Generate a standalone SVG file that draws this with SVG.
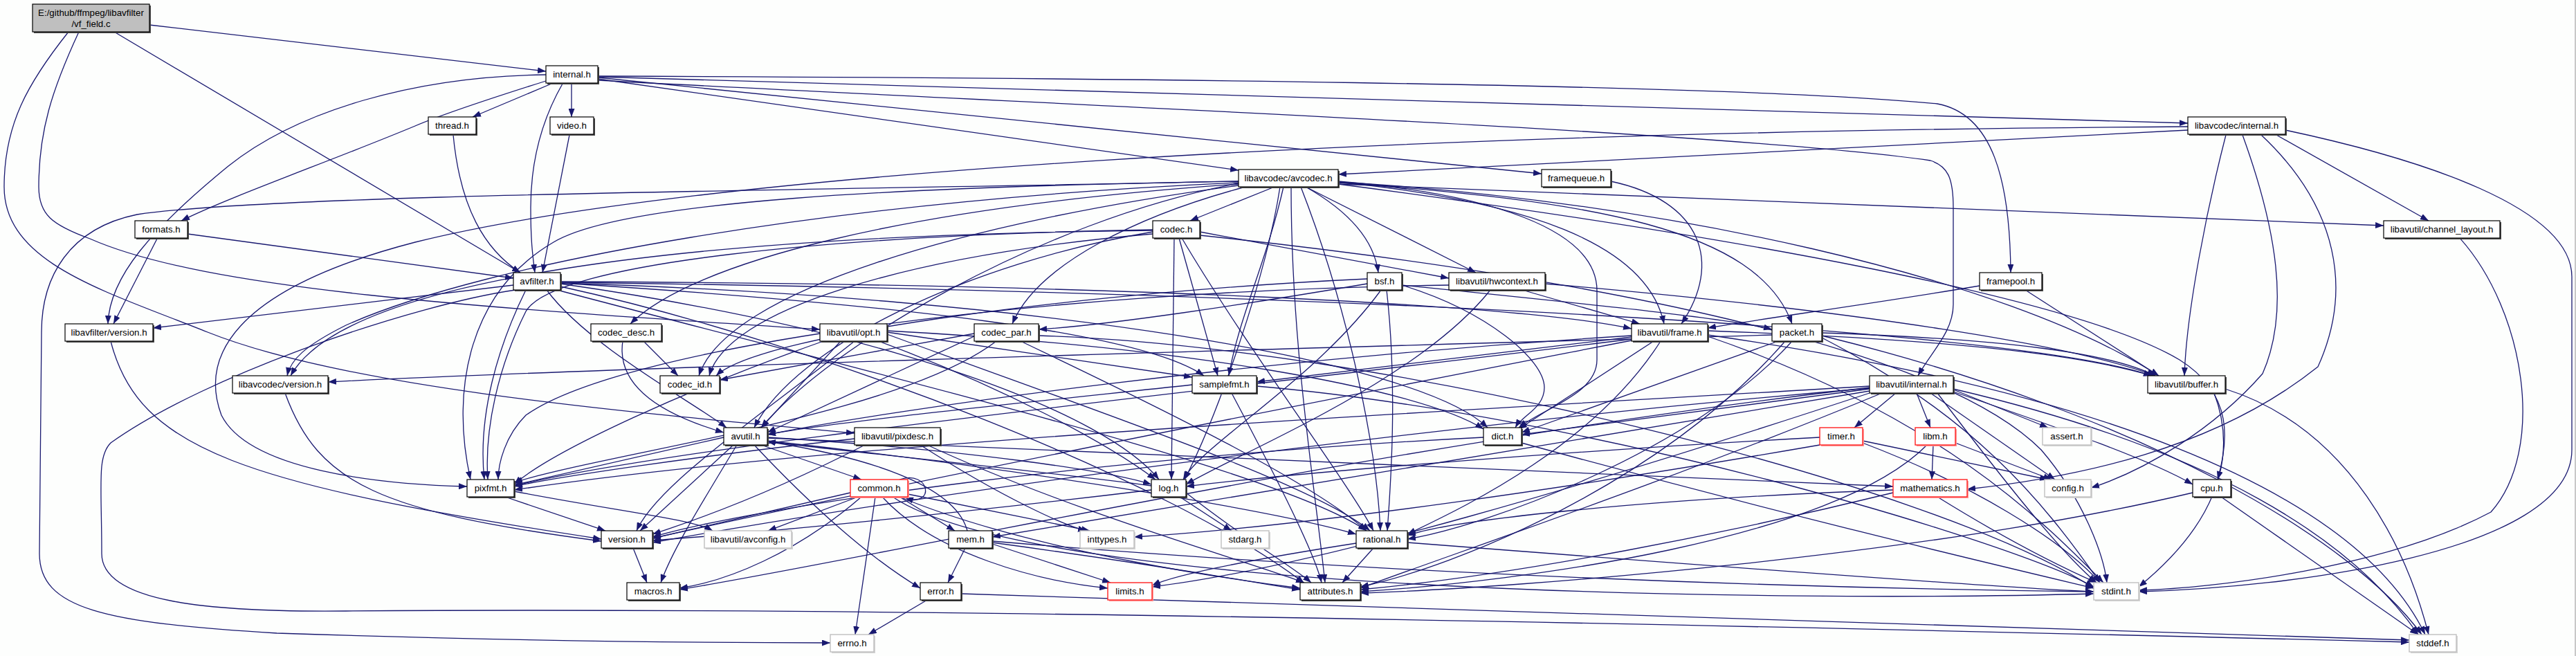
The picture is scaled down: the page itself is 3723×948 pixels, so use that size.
<svg xmlns="http://www.w3.org/2000/svg" width="3723" height="948" viewBox="0 0 3723 948">
<style>
.e{fill:none;stroke:#191970;stroke-width:1.3;marker-end:url(#ah)}
.n rect.s{fill:#4a4a4a}
.n rect.b{fill:#ffffff;stroke:#000;stroke-width:1.2}
.g rect.s{fill:#d4d4d4}
.g rect.b{fill:#ffffff;stroke:#bfbfbf;stroke-width:1.4}
.r rect.s{fill:#ff9a9a}
.r rect.b{fill:#ffffff;stroke:#ff2020;stroke-width:1.4}
.root rect.b{fill:#bfbfbf;stroke:#000;stroke-width:1.2}
text{font-family:"Liberation Sans",Arial,sans-serif;font-size:13.3px;fill:#000;text-anchor:middle}
</style>
<defs>
<marker id="ah" markerUnits="userSpaceOnUse" markerWidth="13" markerHeight="9" refX="12" refY="4.5" orient="auto">
<path d="M0,0 L12,4.5 L0,9 z" fill="#191970"/>
</marker>
</defs>
<rect x="0" y="0" width="3723" height="948" fill="#fdfefd"/>
<line x1="3722" y1="0" x2="3722" y2="948" stroke="#c8c8c8" stroke-width="2"/>
<g id="edges">
<path class="e" d="M216,36 L789,103"/>
<path class="e" d="M165,46 L752,394"/>
<path class="e" d="M114,46 C75,130 56,190 56,270 C56,310 75,325 130,345 C300,420 700,445 1185,476"/>
<path class="e" d="M99,46 C40,120 6,180 6,270 C6,380 150,420 300,480 C500,560 900,595 1235,626"/>
<path class="e" d="M789,108 C600,110 430,160 330,240 C220,330 158,400 156,468"/>
<path class="e" d="M789,117 C700,145 640,165 600,182 C480,232 330,285 262,319"/>
<path class="e" d="M797,121 L683,169"/>
<path class="e" d="M826,120 L826,169"/>
<path class="e" d="M813,121 C785,170 767,230 767,300 C767,350 770,370 773,394"/>
<path class="e" d="M864,114 L1790,246"/>
<path class="e" d="M864,112 L2228,251"/>
<path class="e" d="M864,110 C1500,112 2500,120 2800,150 C2880,165 2905,260 2906,394"/>
<path class="e" d="M864,111 L3162,178"/>
<path class="e" d="M864,116 C1500,150 2500,190 2790,232 C2815,240 2823,257 2823,300 L2823,440 C2823,480 2790,510 2772,543"/>
<path class="e" d="M655,195 C665,300 700,360 752,394"/>
<path class="e" d="M823,195 L784,394"/>
<path class="e" d="M271,338 L742,402"/>
<path class="e" d="M227,345 L164,468"/>
<path class="e" d="M742,412 L221,474"/>
<path class="e" d="M760,419 C720,500 690,600 700,693"/>
<path class="e" d="M790,419 C850,500 1000,580 1050,618"/>
<path class="e" d="M810,414 C1200,500 1700,700 1885,843"/>
<path class="e" d="M810,408 C1800,420 2900,470 3110,543"/>
<path class="e" d="M810,409 C1500,430 2050,520 2150,618"/>
<path class="e" d="M810,407 C1600,410 2200,440 2358,475"/>
<path class="e" d="M810,410 C1300,480 1600,600 1675,693"/>
<path class="e" d="M810,409 C1300,440 1650,480 1740,543"/>
<path class="e" d="M805,419 C1300,550 1850,680 1975,767"/>
<path class="e" d="M745,419 C600,440 300,540 160,640 C140,660 147,700 147,800 C147,870 300,885 500,883 C900,880 1600,880 3482,928"/>
<path class="e" d="M1790,262 C1200,275 400,280 198,310 C100,330 60,400 60,480 L57,800 C57,880 150,900 400,915 C700,925 1000,929 1200,929"/>
<path class="e" d="M1855,270 C1830,380 1790,460 1776,543"/>
<path class="e" d="M1866,270 C1866,500 1900,700 1915,842"/>
<path class="e" d="M1790,265 C1500,320 1200,500 1100,618"/>
<path class="e" d="M1934,263 C2400,290 2900,400 3120,543"/>
<path class="e" d="M1934,266 C2500,340 3000,430 3150,520 C3230,570 3220,640 3205,693"/>
<path class="e" d="M1934,266 L3445,326"/>
<path class="e" d="M1934,262 C2150,280 2308,330 2308,420 L2308,520 C2308,570 2230,590 2195,618"/>
<path class="e" d="M1934,263 C2200,290 2380,350 2405,468"/>
<path class="e" d="M1887,270 L2133,394"/>
<path class="e" d="M1850,270 C1830,400 1760,600 1712,693"/>
<path class="e" d="M1790,262 C1300,270 900,290 800,350 C680,420 650,560 680,693"/>
<path class="e" d="M1880,270 C1950,450 1990,650 1995,767"/>
<path class="e" d="M1887,270 C1940,300 1985,340 1992,394"/>
<path class="e" d="M1842,270 L1720,319"/>
<path class="e" d="M1790,266 C1300,300 1000,380 911,468"/>
<path class="e" d="M1800,270 C1650,310 1500,380 1463,468"/>
<path class="e" d="M1790,268 C1400,320 1050,420 1010,543"/>
<path class="e" d="M1934,264 C2300,290 2540,330 2590,468"/>
<path class="e" d="M1790,264 C1200,290 700,380 500,470 C440,500 420,520 415,543"/>
<path class="e" d="M3162,188 L1934,252"/>
<path class="e" d="M3162,183 C2000,190 1000,250 600,350 C330,420 290,520 320,600 C360,680 550,700 675,703"/>
<path class="e" d="M3217,195 C3190,300 3160,450 3157,543"/>
<path class="e" d="M3241,195 C3290,330 3310,450 3270,540 C3200,620 3100,680 3022,705"/>
<path class="e" d="M3268,195 C3380,300 3400,420 3350,530 C3200,650 3000,690 2843,707"/>
<path class="e" d="M3290,195 L3510,319"/>
<path class="e" d="M3303,188 C3500,230 3717,300 3717,400 L3717,650 C3717,800 3300,850 3091,855"/>
<path class="e" d="M2328,262 C2460,290 2490,380 2430,468"/>
<path class="e" d="M1734,340 C2300,400 2800,500 2950,650 C3010,720 3040,800 3045,842"/>
<path class="e" d="M1666,335 C1400,380 1150,500 1090,618"/>
<path class="e" d="M1734,335 L2094,402"/>
<path class="e" d="M1697,344 L1693,693"/>
<path class="e" d="M1666,332 C1200,340 800,380 760,450 C720,530 700,620 705,693"/>
<path class="e" d="M1708,344 C1800,500 1950,700 1985,767"/>
<path class="e" d="M1704,344 L1760,543"/>
<path class="e" d="M1666,338 C1300,370 1050,450 1025,543"/>
<path class="e" d="M1666,333 C1000,340 500,400 420,543"/>
<path class="e" d="M2026,412 C2150,450 2232,520 2232,560 C2232,590 2200,600 2190,618"/>
<path class="e" d="M1996,419 C1900,550 1740,640 1710,693"/>
<path class="e" d="M2004,419 C2020,560 2010,700 2005,767"/>
<path class="e" d="M1976,403 C1600,420 1100,480 1035,543"/>
<path class="e" d="M1976,410 C1800,440 1600,470 1501,476"/>
<path class="e" d="M2026,412 C2300,440 2500,460 2561,476"/>
<path class="e" d="M2233,410 C2700,450 3000,500 3115,543"/>
<path class="e" d="M2200,419 L2370,468"/>
<path class="e" d="M2154,419 C2050,550 1800,650 1714,700"/>
<path class="e" d="M2094,412 C1500,420 900,500 760,600 C730,630 720,670 720,693"/>
<path class="e" d="M2927,419 L3120,543"/>
<path class="e" d="M2861,413 C2700,440 2550,460 2468,474"/>
<path class="e" d="M160,493 C200,650 350,700 869,779"/>
<path class="e" d="M412,568 C460,700 550,740 869,782"/>
<path class="e" d="M900,493 C890,560 960,600 1046,625"/>
<path class="e" d="M930,493 L980,543"/>
<path class="e" d="M1282,483 C1600,600 1900,700 1980,767"/>
<path class="e" d="M1215,493 L1100,618"/>
<path class="e" d="M1282,478 C1700,500 2050,560 2144,620"/>
<path class="e" d="M1270,493 C1450,560 1600,640 1670,693"/>
<path class="e" d="M1190,493 C1000,560 800,650 743,700"/>
<path class="e" d="M1282,480 L1723,545"/>
<path class="e" d="M1235,493 C1100,600 950,700 920,767"/>
<path class="e" d="M1501,485 C2000,500 2800,700 3026,850"/>
<path class="e" d="M1408,486 L1109,625"/>
<path class="e" d="M1475,493 C1700,600 1900,700 1975,767"/>
<path class="e" d="M1440,493 C1300,600 900,650 743,697"/>
<path class="e" d="M1408,482 L1040,549"/>
<path class="e" d="M2468,484 C3000,560 3400,700 3505,917"/>
<path class="e" d="M2468,486 C2800,600 2950,750 3040,842"/>
<path class="e" d="M2358,485 C1800,520 1300,590 1109,628"/>
<path class="e" d="M2468,478 C2800,490 3000,510 3110,543"/>
<path class="e" d="M2390,493 L2195,620"/>
<path class="e" d="M2400,493 C2300,650 2100,740 2034,772"/>
<path class="e" d="M2358,487 L1816,552"/>
<path class="e" d="M2358,490 C1800,560 1000,640 743,702"/>
<path class="e" d="M2358,492 C1800,600 1200,720 943,778"/>
<path class="e" d="M2633,485 C3100,600 3400,780 3500,917"/>
<path class="e" d="M2633,488 C2850,600 2950,720 3035,842"/>
<path class="e" d="M2580,493 C2400,700 2100,820 1966,848"/>
<path class="e" d="M2633,481 C2900,490 3050,510 3115,543"/>
<path class="e" d="M2570,493 L2199,625"/>
<path class="e" d="M2590,493 C2450,650 2150,760 2034,779"/>
<path class="e" d="M2561,484 C2000,500 900,530 474,552"/>
<path class="e" d="M2702,568 C2300,700 1900,820 1665,848"/>
<path class="e" d="M2800,568 C2900,700 2980,800 3030,842"/>
<path class="e" d="M2823,562 C3200,650 3400,780 3495,917"/>
<path class="e" d="M2823,563 L2960,618"/>
<path class="e" d="M2790,568 L2970,693"/>
<path class="e" d="M2720,568 C2400,700 2100,800 1966,850"/>
<path class="e" d="M2740,568 L2680,618"/>
<path class="e" d="M2823,566 C2950,610 3100,660 3169,700"/>
<path class="e" d="M2702,562 L2199,628"/>
<path class="e" d="M2702,560 C2000,640 1300,800 982,852"/>
<path class="e" d="M2702,565 C2200,650 1700,730 1434,776"/>
<path class="e" d="M2702,558 C2000,600 1200,640 743,708"/>
<path class="e" d="M2702,561 C2000,620 1300,720 943,784"/>
<path class="e" d="M2770,568 L2790,618"/>
<path class="e" d="M3216,562 C3400,620 3480,800 3510,917"/>
<path class="e" d="M3200,568 C3250,700 3150,800 3091,848"/>
<path class="e" d="M3555,344 C3650,450 3680,650 3600,740 C3450,820 3200,850 3091,853"/>
<path class="e" d="M1816,558 C2300,600 2900,780 3026,848"/>
<path class="e" d="M1723,556 C1500,580 1200,610 1109,628"/>
<path class="e" d="M1780,568 C1850,700 1900,800 1910,842"/>
<path class="e" d="M1100,643 L1245,693"/>
<path class="e" d="M1090,643 C1200,760 1280,820 1330,850"/>
<path class="e" d="M1109,637 C1500,680 1850,740 1960,772"/>
<path class="e" d="M1060,643 L925,767"/>
<path class="e" d="M1065,643 C1000,750 970,800 955,842"/>
<path class="e" d="M1109,633 C1800,660 2500,690 2736,703"/>
<path class="e" d="M1109,632 C1400,650 1600,680 1664,700"/>
<path class="e" d="M1046,632 L743,701"/>
<path class="e" d="M1330,643 C1450,720 1540,760 1570,767"/>
<path class="e" d="M1340,643 C1550,740 1800,810 1885,842"/>
<path class="e" d="M1235,634 C1000,660 800,690 743,703"/>
<path class="e" d="M1250,643 C1100,720 980,760 943,772"/>
<path class="e" d="M2199,640 C2600,750 2900,820 3026,850"/>
<path class="e" d="M2144,632 C1600,660 1100,730 943,776"/>
<path class="e" d="M2692,637 C2800,660 2900,680 2960,693"/>
<path class="e" d="M2630,643 C2300,700 1900,760 1639,776"/>
<path class="e" d="M2692,640 C2850,700 2980,780 3035,842"/>
<path class="e" d="M2630,632 C2300,650 1900,680 1714,703"/>
<path class="e" d="M2826,640 L2965,693"/>
<path class="e" d="M2785,643 C2650,780 2200,840 1966,855"/>
<path class="e" d="M2794,643 L2792,693"/>
<path class="e" d="M743,710 C900,740 1000,750 1030,767"/>
<path class="e" d="M730,718 L875,767"/>
<path class="e" d="M1300,693 C1345,678 1352,735 1308,719"/>
<path class="e" d="M1265,718 L1236,917"/>
<path class="e" d="M1312,714 L1575,767"/>
<path class="e" d="M1275,718 C1350,800 1500,840 1601,850"/>
<path class="e" d="M1290,718 C1500,860 2600,870 3026,858"/>
<path class="e" d="M1300,718 C1500,800 1800,840 1879,850"/>
<path class="e" d="M1245,718 C1150,800 1050,840 982,850"/>
<path class="e" d="M1229,712 L943,778"/>
<path class="e" d="M1240,718 L1110,767"/>
<path class="e" d="M1300,718 L1380,767"/>
<path class="e" d="M1705,718 L1780,767"/>
<path class="e" d="M1664,702 C1500,680 1200,650 1109,638"/>
<path class="e" d="M1714,712 C1800,780 1870,820 1895,842"/>
<path class="e" d="M1664,708 C1400,740 1100,770 943,781"/>
<path class="e" d="M1434,786 L1605,842"/>
<path class="e" d="M1434,782 C2000,830 2600,850 3026,855"/>
<path class="e" d="M1434,784 C1700,820 1800,840 1879,852"/>
<path class="e" d="M1395,792 L1370,842"/>
<path class="e" d="M1398,767 C1380,700 1250,660 1109,638"/>
<path class="e" d="M1340,867 L1255,917"/>
<path class="e" d="M1389,858 C2200,890 3000,910 3482,925"/>
<path class="e" d="M2034,784 C2500,820 2900,850 3026,855"/>
<path class="e" d="M1960,785 C1800,810 1700,830 1665,846"/>
<path class="e" d="M1985,792 L1940,842"/>
<path class="e" d="M2800,718 C2900,780 2980,820 3030,842"/>
<path class="e" d="M2736,712 C2500,770 2200,830 1966,852"/>
<path class="e" d="M2736,708 C2400,720 2100,750 2034,774"/>
<path class="e" d="M915,792 L935,842"/>
<path class="e" d="M3210,718 L3495,917"/>
<path class="e" d="M3169,712 C2800,800 2200,850 1966,857"/>
</g>
<g id="node-vf_field" class="n root"><rect class="s" x="49" y="8" width="169" height="40"/><rect class="b" x="47" y="6" width="169" height="40"/><text x="131.5" y="23">E:/github/ffmpeg/libavfilter</text><text x="131.5" y="39">/vf_field.c</text></g>
<g id="node-internal" class="n"><rect class="s" x="791" y="97" width="75" height="25"/><rect class="b" x="789" y="95" width="75" height="25"/><text x="826.5" y="112">internal.h</text></g>
<g id="node-thread" class="n"><rect class="s" x="621" y="171" width="69" height="25"/><rect class="b" x="619" y="169" width="69" height="25"/><text x="653.5" y="186">thread.h</text></g>
<g id="node-video" class="n"><rect class="s" x="797" y="171" width="63" height="25"/><rect class="b" x="795" y="169" width="63" height="25"/><text x="826.5" y="186">video.h</text></g>
<g id="node-lavc_internal" class="n"><rect class="s" x="3164" y="171" width="141" height="25"/><rect class="b" x="3162" y="169" width="141" height="25"/><text x="3232.5" y="186">libavcodec/internal.h</text></g>
<g id="node-avcodec" class="n"><rect class="s" x="1792" y="247" width="144" height="25"/><rect class="b" x="1790" y="245" width="144" height="25"/><text x="1862" y="262">libavcodec/avcodec.h</text></g>
<g id="node-framequeue" class="n"><rect class="s" x="2230" y="247" width="100" height="25"/><rect class="b" x="2228" y="245" width="100" height="25"/><text x="2278" y="262">framequeue.h</text></g>
<g id="node-formats" class="n"><rect class="s" x="197" y="321" width="76" height="25"/><rect class="b" x="195" y="319" width="76" height="25"/><text x="233" y="336">formats.h</text></g>
<g id="node-codec" class="n"><rect class="s" x="1668" y="321" width="68" height="25"/><rect class="b" x="1666" y="319" width="68" height="25"/><text x="1700" y="336">codec.h</text></g>
<g id="node-channel_layout" class="n"><rect class="s" x="3447" y="321" width="168" height="25"/><rect class="b" x="3445" y="319" width="168" height="25"/><text x="3529" y="336">libavutil/channel_layout.h</text></g>
<g id="node-avfilter" class="n"><rect class="s" x="744" y="396" width="68" height="25"/><rect class="b" x="742" y="394" width="68" height="25"/><text x="776" y="411">avfilter.h</text></g>
<g id="node-bsf" class="n"><rect class="s" x="1978" y="396" width="50" height="25"/><rect class="b" x="1976" y="394" width="50" height="25"/><text x="2001" y="411">bsf.h</text></g>
<g id="node-hwcontext" class="n"><rect class="s" x="2096" y="396" width="139" height="25"/><rect class="b" x="2094" y="394" width="139" height="25"/><text x="2163.5" y="411">libavutil/hwcontext.h</text></g>
<g id="node-framepool" class="n"><rect class="s" x="2863" y="396" width="90" height="25"/><rect class="b" x="2861" y="394" width="90" height="25"/><text x="2906" y="411">framepool.h</text></g>
<g id="node-lavfi_version" class="n"><rect class="s" x="96" y="470" width="127" height="25"/><rect class="b" x="94" y="468" width="127" height="25"/><text x="157.5" y="485">libavfilter/version.h</text></g>
<g id="node-codec_desc" class="n"><rect class="s" x="856" y="470" width="102" height="25"/><rect class="b" x="854" y="468" width="102" height="25"/><text x="905" y="485">codec_desc.h</text></g>
<g id="node-opt" class="n"><rect class="s" x="1187" y="470" width="97" height="25"/><rect class="b" x="1185" y="468" width="97" height="25"/><text x="1233.5" y="485">libavutil/opt.h</text></g>
<g id="node-codec_par" class="n"><rect class="s" x="1410" y="470" width="93" height="25"/><rect class="b" x="1408" y="468" width="93" height="25"/><text x="1454.5" y="485">codec_par.h</text></g>
<g id="node-frame" class="n"><rect class="s" x="2360" y="470" width="110" height="25"/><rect class="b" x="2358" y="468" width="110" height="25"/><text x="2413" y="485">libavutil/frame.h</text></g>
<g id="node-packet" class="n"><rect class="s" x="2563" y="470" width="72" height="25"/><rect class="b" x="2561" y="468" width="72" height="25"/><text x="2597" y="485">packet.h</text></g>
<g id="node-lavc_version" class="n"><rect class="s" x="338" y="545" width="138" height="25"/><rect class="b" x="336" y="543" width="138" height="25"/><text x="405" y="560">libavcodec/version.h</text></g>
<g id="node-codec_id" class="n"><rect class="s" x="956" y="545" width="86" height="25"/><rect class="b" x="954" y="543" width="86" height="25"/><text x="997" y="560">codec_id.h</text></g>
<g id="node-samplefmt" class="n"><rect class="s" x="1725" y="545" width="93" height="25"/><rect class="b" x="1723" y="543" width="93" height="25"/><text x="1769.5" y="560">samplefmt.h</text></g>
<g id="node-lavu_internal" class="n"><rect class="s" x="2704" y="545" width="121" height="25"/><rect class="b" x="2702" y="543" width="121" height="25"/><text x="2762.5" y="560">libavutil/internal.h</text></g>
<g id="node-buffer" class="n"><rect class="s" x="3106" y="545" width="112" height="25"/><rect class="b" x="3104" y="543" width="112" height="25"/><text x="3160" y="560">libavutil/buffer.h</text></g>
<g id="node-avutil" class="n"><rect class="s" x="1048" y="620" width="63" height="25"/><rect class="b" x="1046" y="618" width="63" height="25"/><text x="1077.5" y="635">avutil.h</text></g>
<g id="node-pixdesc" class="n"><rect class="s" x="1237" y="620" width="124" height="25"/><rect class="b" x="1235" y="618" width="124" height="25"/><text x="1297" y="635">libavutil/pixdesc.h</text></g>
<g id="node-dict" class="n"><rect class="s" x="2146" y="620" width="55" height="25"/><rect class="b" x="2144" y="618" width="55" height="25"/><text x="2171.5" y="635">dict.h</text></g>
<g id="node-timer" class="r"><rect class="s" x="2632" y="620" width="62" height="25"/><rect class="b" x="2630" y="618" width="62" height="25"/><text x="2661" y="635">timer.h</text></g>
<g id="node-libm" class="r"><rect class="s" x="2770" y="620" width="58" height="25"/><rect class="b" x="2768" y="618" width="58" height="25"/><text x="2797" y="635">libm.h</text></g>
<g id="node-assert" class="g"><rect class="s" x="2954" y="620" width="70" height="25"/><rect class="b" x="2952" y="618" width="70" height="25"/><text x="2987" y="635">assert.h</text></g>
<g id="node-pixfmt" class="n"><rect class="s" x="677" y="695" width="68" height="25"/><rect class="b" x="675" y="693" width="68" height="25"/><text x="709" y="710">pixfmt.h</text></g>
<g id="node-common" class="r"><rect class="s" x="1231" y="695" width="83" height="25"/><rect class="b" x="1229" y="693" width="83" height="25"/><text x="1270.5" y="710">common.h</text></g>
<g id="node-log" class="n"><rect class="s" x="1666" y="695" width="50" height="25"/><rect class="b" x="1664" y="693" width="50" height="25"/><text x="1689" y="710">log.h</text></g>
<g id="node-mathematics" class="r"><rect class="s" x="2738" y="695" width="107" height="25"/><rect class="b" x="2736" y="693" width="107" height="25"/><text x="2789.5" y="710">mathematics.h</text></g>
<g id="node-config" class="g"><rect class="s" x="2957" y="695" width="67" height="25"/><rect class="b" x="2955" y="693" width="67" height="25"/><text x="2988.5" y="710">config.h</text></g>
<g id="node-cpu" class="n"><rect class="s" x="3171" y="695" width="55" height="25"/><rect class="b" x="3169" y="693" width="55" height="25"/><text x="3196.5" y="710">cpu.h</text></g>
<g id="node-version" class="n"><rect class="s" x="871" y="769" width="74" height="25"/><rect class="b" x="869" y="767" width="74" height="25"/><text x="906" y="784">version.h</text></g>
<g id="node-avconfig" class="g"><rect class="s" x="1020" y="769" width="126" height="25"/><rect class="b" x="1018" y="767" width="126" height="25"/><text x="1081" y="784">libavutil/avconfig.h</text></g>
<g id="node-mem" class="n"><rect class="s" x="1373" y="769" width="63" height="25"/><rect class="b" x="1371" y="767" width="63" height="25"/><text x="1402.5" y="784">mem.h</text></g>
<g id="node-inttypes" class="g"><rect class="s" x="1563" y="769" width="78" height="25"/><rect class="b" x="1561" y="767" width="78" height="25"/><text x="1600" y="784">inttypes.h</text></g>
<g id="node-stdarg" class="g"><rect class="s" x="1767" y="769" width="69" height="25"/><rect class="b" x="1765" y="767" width="69" height="25"/><text x="1799.5" y="784">stdarg.h</text></g>
<g id="node-rational" class="n"><rect class="s" x="1962" y="769" width="74" height="25"/><rect class="b" x="1960" y="767" width="74" height="25"/><text x="1997" y="784">rational.h</text></g>
<g id="node-macros" class="n"><rect class="s" x="908" y="844" width="76" height="25"/><rect class="b" x="906" y="842" width="76" height="25"/><text x="944" y="859">macros.h</text></g>
<g id="node-error" class="n"><rect class="s" x="1332" y="844" width="59" height="25"/><rect class="b" x="1330" y="842" width="59" height="25"/><text x="1359.5" y="859">error.h</text></g>
<g id="node-limits" class="r"><rect class="s" x="1603" y="844" width="64" height="25"/><rect class="b" x="1601" y="842" width="64" height="25"/><text x="1633" y="859">limits.h</text></g>
<g id="node-attributes" class="n"><rect class="s" x="1881" y="844" width="87" height="25"/><rect class="b" x="1879" y="842" width="87" height="25"/><text x="1922.5" y="859">attributes.h</text></g>
<g id="node-stdint" class="g"><rect class="s" x="3028" y="844" width="65" height="25"/><rect class="b" x="3026" y="842" width="65" height="25"/><text x="3058.5" y="859">stdint.h</text></g>
<g id="node-errno" class="g"><rect class="s" x="1202" y="919" width="63" height="25"/><rect class="b" x="1200" y="917" width="63" height="25"/><text x="1231.5" y="934">errno.h</text></g>
<g id="node-stddef" class="g"><rect class="s" x="3484" y="919" width="68" height="25"/><rect class="b" x="3482" y="917" width="68" height="25"/><text x="3516" y="934">stddef.h</text></g>
</svg>
